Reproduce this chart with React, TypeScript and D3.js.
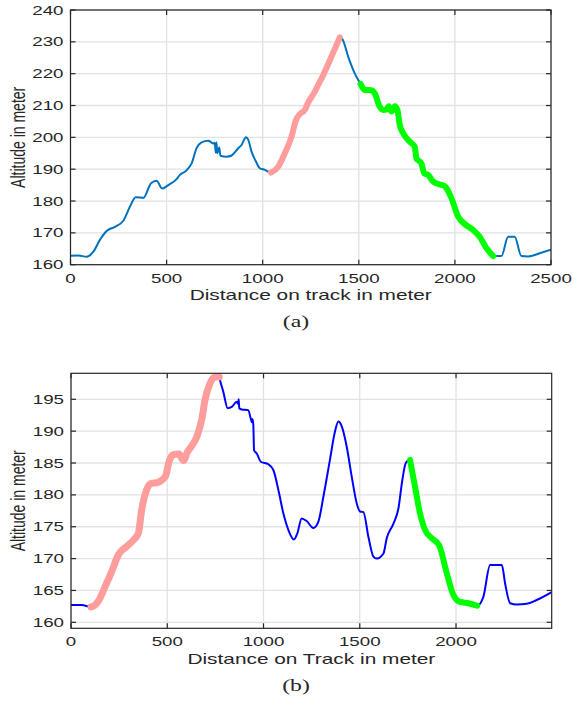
import React from "react";
import * as d3 from "d3";

// ---------- Data (a) ----------
const TOP_DIST = [0, 41, 84, 119, 153, 188, 231, 275, 309, 339, 379, 419, 448, 477, 509, 552, 569, 599, 630, 656, 682, 717, 743, 750, 756, 759, 764, 774, 780, 812, 838, 873, 890, 913, 925, 942, 965, 985, 1011, 1043, 1081, 1115, 1150, 1173, 1193, 1219, 1237, 1263, 1289, 1315, 1350, 1384, 1401, 1415, 1445, 1479, 1509, 1531, 1566, 1583, 1609, 1627, 1644, 1656, 1670, 1687, 1701, 1713, 1731, 1765, 1791, 1800, 1826, 1840, 1861, 1887, 1921, 1947, 1956, 1982, 2017, 2051, 2095, 2129, 2164, 2199, 2242, 2277, 2311, 2346, 2381, 2442, 2500];
const TOP_ALT = [162.8, 162.9, 162.5, 164.1, 167.8, 170.6, 171.9, 173.8, 178.2, 181.2, 181.0, 185.6, 186.4, 183.9, 185.0, 186.9, 188.2, 189.4, 191.8, 196.6, 198.4, 198.9, 198.1, 198.3, 195.2, 198.5, 195.0, 196.8, 194.2, 193.9, 194.3, 196.6, 197.6, 200.0, 199.2, 195.5, 192.4, 190.3, 189.8, 188.9, 190.8, 195.0, 200.2, 205.4, 207.3, 208.6, 211.0, 213.5, 216.5, 219.6, 224.3, 229.0, 231.4, 230.8, 225.3, 220.1, 216.8, 214.9, 214.8, 213.8, 209.6, 208.6, 208.7, 209.8, 208.1, 209.8, 208.6, 203.9, 201.3, 198.6, 197.1, 193.4, 191.8, 188.7, 188.2, 186.1, 185.2, 184.7, 184.0, 180.9, 175.1, 172.8, 170.9, 168.8, 165.2, 162.7, 162.7, 168.8, 168.8, 162.7, 162.6, 163.6, 164.7];
const TOP_UPHILL = [1043, 1401];
const TOP_DOWNHILL = [1509, 2199];
const TOP_X_TICKS = [0, 500, 1000, 1500, 2000, 2500];
const TOP_Y_TICKS = [160, 170, 180, 190, 200, 210, 220, 230, 240];

// ---------- Data (b) ----------
const BOT_DIST = [0, 55, 104, 121, 151, 177, 211, 246, 289, 324, 350, 367, 393, 416, 445, 471, 492, 509, 531, 561, 584, 606, 627, 653, 679, 696, 722, 748, 770, 774, 791, 814, 835, 861, 868, 871, 874, 887, 921, 935, 940, 943, 947, 951, 965, 986, 1025, 1051, 1077, 1103, 1129, 1158, 1176, 1198, 1224, 1259, 1285, 1311, 1345, 1371, 1389, 1406, 1432, 1458, 1484, 1501, 1519, 1545, 1571, 1588, 1623, 1640, 1675, 1701, 1721, 1739, 1761, 1787, 1813, 1839, 1874, 1912, 1952, 1986, 2021, 2064, 2110, 2142, 2177, 2238, 2255, 2281, 2315, 2367, 2419, 2495];
const BOT_ALT = [162.7, 162.7, 162.4, 162.6, 163.8, 165.6, 167.9, 170.6, 171.9, 172.9, 174.0, 177.6, 180.8, 181.8, 181.9, 182.3, 183.0, 185.2, 186.3, 186.4, 185.4, 186.8, 187.7, 189.1, 191.8, 194.9, 197.5, 198.5, 198.5, 198.0, 196.2, 193.6, 193.8, 194.6, 194.3, 195.0, 193.6, 193.4, 193.3, 191.8, 191.4, 191.9, 191.0, 187.0, 186.5, 185.2, 184.8, 183.9, 180.8, 177.1, 174.5, 173.0, 174.0, 176.3, 175.9, 174.8, 175.8, 179.7, 185.5, 189.9, 191.5, 190.8, 187.6, 182.9, 178.7, 177.4, 177.3, 173.4, 170.3, 170.0, 170.8, 173.2, 175.5, 177.9, 182.3, 185.0, 185.5, 181.3, 177.1, 174.5, 173.2, 172.1, 167.7, 164.3, 163.2, 163.0, 162.6, 164.0, 169.0, 169.0, 166.1, 163.0, 162.8, 162.9, 163.5, 164.7];
const BOT_UPHILL = [104, 770];
const BOT_DOWNHILL = [1761, 2110];
const BOT_X_TICKS = [0, 500, 1000, 1500, 2000];
const BOT_Y_TICKS = [160, 165, 170, 175, 180, 185, 190, 195];

const AXIS_COLOR = "#262626";
const GRID_COLOR = "#e2e2e2";
const SANS = "'Liberation Sans', Arial, Helvetica, sans-serif";
const SERIF = "'Liberation Serif', 'Times New Roman', serif";

function SText(props: { x: number; y: number; sx?: number; anchor?: string; size: number; family?: string; rotate?: boolean; children: any }) {
  const { x, y, sx = 1.5, anchor = "middle", size, family = SANS, rotate = false, children } = props;
  const t = `translate(${x},${y}) scale(${sx},1)` + (rotate ? " rotate(-90)" : "");
  return (
    <text transform={t} textAnchor={anchor as any} fontSize={size} fontFamily={family} fill={AXIS_COLOR}>
      {children}
    </text>
  );
}

type PanelProps = {
  dist: number[];
  alt: number[];
  uphill: number[];
  downhill: number[];
  xDomain: [number, number];
  yDomain: [number, number];
  xTicks: number[];
  yTicks: number[];
  left: number;
  right: number;
  top: number;
  bottom: number;
  lineColor: string;
  upWidth: number;
  downWidth: number;
  xLabel: string;
  xLabelY: number;
  tickLabelY: number;
  caption: string;
  captionY: number;
};

function Panel(p: PanelProps) {
  const x = d3.scaleLinear().domain(p.xDomain).range([p.left, p.right]);
  const y = d3.scaleLinear().domain(p.yDomain).range([p.bottom, p.top]);
  const pts: [number, number][] = p.dist.map((d, i) => [d, p.alt[i]]);
  const line = d3
    .line<[number, number]>()
    .x((d) => x(d[0]))
    .y((d) => y(d[1]))
    .curve(d3.curveMonotoneX);
  const seg = (r: number[]) => pts.filter((d) => d[0] >= r[0] && d[0] <= r[1]);
  const tl = 5;
  return (
    <g>
      <defs>
        <clipPath id={`clip-${p.caption}`}>
          <rect x={p.left} y={p.top - 2} width={p.right - p.left} height={p.bottom - p.top + 2} />
        </clipPath>
      </defs>
      <rect x={p.left} y={p.top} width={p.right - p.left} height={p.bottom - p.top} fill="#fff" />
      {p.xTicks.map((t) => (
        <line key={"gx" + t} x1={x(t)} x2={x(t)} y1={p.top} y2={p.bottom} stroke={GRID_COLOR} strokeWidth={1.3} />
      ))}
      {p.yTicks.map((t) => (
        <line key={"gy" + t} x1={p.left} x2={p.right} y1={y(t)} y2={y(t)} stroke={GRID_COLOR} strokeWidth={1.3} />
      ))}
      <g clipPath={`url(#clip-${p.caption})`}>
        <path d={line(pts) || ""} fill="none" stroke={p.lineColor} strokeWidth={2} strokeLinejoin="round" />
        <path d={line(seg(p.uphill)) || ""} fill="none" stroke="#ff9c9c" strokeWidth={p.upWidth} strokeLinejoin="round" strokeLinecap="round" />
        <path d={line(seg(p.downhill)) || ""} fill="none" stroke="#00ff00" strokeWidth={p.downWidth} strokeLinejoin="round" strokeLinecap="round" />
      </g>
      <rect x={p.left} y={p.top} width={p.right - p.left} height={p.bottom - p.top} fill="none" stroke={AXIS_COLOR} strokeWidth={1.2} />
      {p.xTicks.map((t) => (
        <g key={"tx" + t}>
          <line x1={x(t)} x2={x(t)} y1={p.bottom} y2={p.bottom - tl} stroke={AXIS_COLOR} strokeWidth={1.2} />
          <line x1={x(t)} x2={x(t)} y1={p.top} y2={p.top + tl} stroke={AXIS_COLOR} strokeWidth={1.2} />
          <SText x={x(t)} y={p.tickLabelY} size={12.5} sx={1.5}>{t}</SText>
        </g>
      ))}
      {p.yTicks.map((t) => (
        <g key={"ty" + t}>
          <line x1={p.left} x2={p.left + tl} y1={y(t)} y2={y(t)} stroke={AXIS_COLOR} strokeWidth={1.2} />
          <line x1={p.right} x2={p.right - tl} y1={y(t)} y2={y(t)} stroke={AXIS_COLOR} strokeWidth={1.2} />
          <SText x={p.left - 7} y={y(t) + 4.5} size={12.5} sx={1.5} anchor="end">{t}</SText>
        </g>
      ))}
      <SText x={(p.left + p.right) / 2} y={p.xLabelY} size={14} sx={1.49}>{p.xLabel}</SText>
      <SText x={25} y={(p.top + p.bottom) / 2} size={14} sx={1.42} rotate>Altitude in meter</SText>
      <SText x={296} y={p.captionY} size={17} sx={1.4} family={SERIF}>{`(${p.caption})`}</SText>
    </g>
  );
}

export default function App() {
  return (
    <svg width={573} height={704} style={{ position: "absolute", left: 0, top: 0, background: "#fff" }}>
      <rect x={0} y={0} width={573} height={704} fill="#fff" />
      <Panel
        dist={TOP_DIST}
        alt={TOP_ALT}
        uphill={TOP_UPHILL}
        downhill={TOP_DOWNHILL}
        xDomain={[0, 2500]}
        yDomain={[160, 240]}
        xTicks={TOP_X_TICKS}
        yTicks={TOP_Y_TICKS}
        left={70.5}
        right={551}
        top={10}
        bottom={264.7}
        lineColor="#0072bd"
        upWidth={6}
        downWidth={6}
        xLabel="Distance on track in meter"
        xLabelY={300}
        tickLabelY={283}
        caption="a"
        captionY={327}
      />
      <Panel
        dist={BOT_DIST}
        alt={BOT_ALT}
        uphill={BOT_UPHILL}
        downhill={BOT_DOWNHILL}
        xDomain={[0, 2497]}
        yDomain={[159.06, 199.08]}
        xTicks={BOT_X_TICKS}
        yTicks={BOT_Y_TICKS}
        left={71}
        right={551.7}
        top={373.3}
        bottom={628.3}
        lineColor="#0000ff"
        upWidth={7}
        downWidth={6}
        xLabel="Distance on Track in meter"
        xLabelY={664}
        tickLabelY={646}
        caption="b"
        captionY={691}
      />
    </svg>
  );
}
